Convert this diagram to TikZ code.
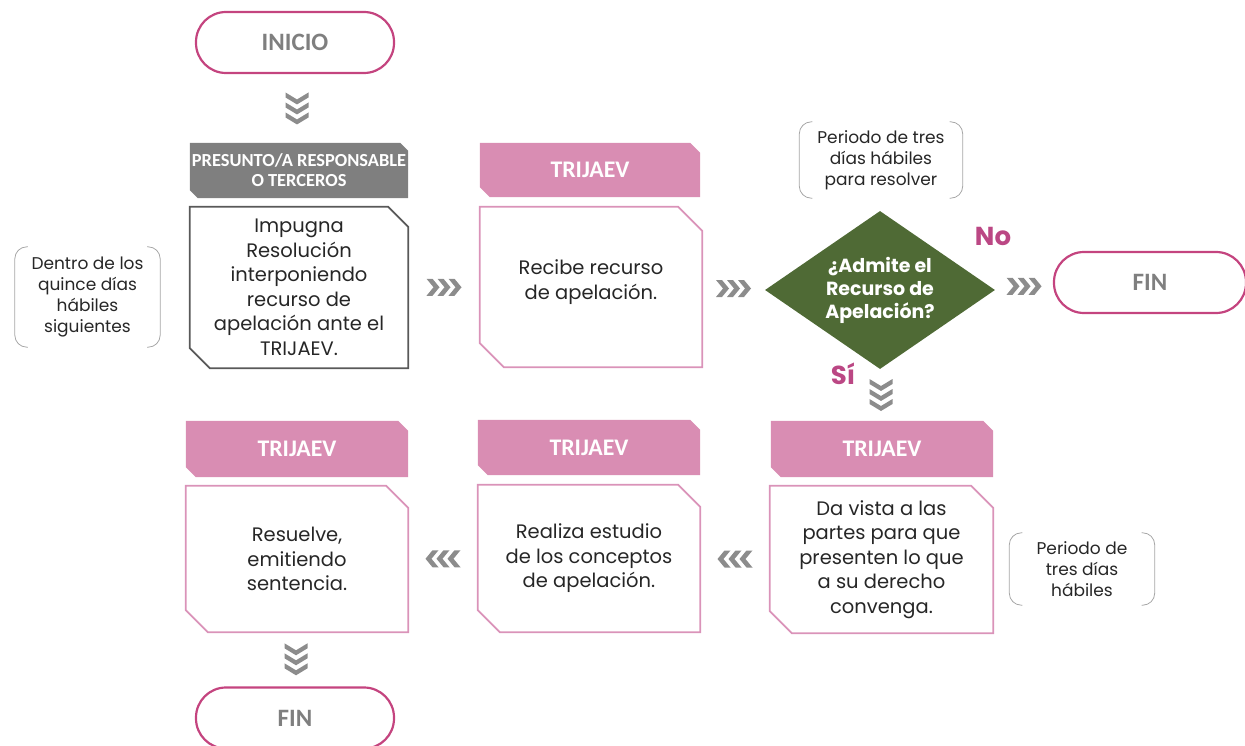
\documentclass[tikz,border=0pt]{standalone}
\usepackage{fontspec}
\setmainfont{Poppins}
\newfontfamily\carl{Carlito}
\usetikzlibrary{shapes.geometric,calc}
\pgfdeclarelayer{bg}
\pgfsetlayers{bg,main}
\definecolor{hdrpink}{HTML}{D98DB3}
\definecolor{boxpink}{HTML}{DA93B9}
\definecolor{pillpink}{HTML}{C4447F}
\definecolor{lblpink}{HTML}{BB4784}
\definecolor{decgreen}{HTML}{4F6A35}
\definecolor{hdrgray}{HTML}{7F7F7F}
\definecolor{boxgray}{HTML}{595959}
\definecolor{chevgray}{HTML}{8C8C8C}
\definecolor{txt}{HTML}{262626}
\definecolor{notegray}{HTML}{A6A6A6}
\newcommand\mychbox[3]{\path[#3] (#1.north west) -- ([xshift=-#2]#1.north east) -- ([yshift=-#2]#1.north east) -- (#1.south east) -- ([xshift=#2]#1.south west) -- ([yshift=#2]#1.south west) -- cycle;}
\newcommand\mybrk[1]{%
  \draw[notegray, line width=0.8pt, rounded corners=12pt] ([xshift=13pt]#1.north west) -- (#1.north west) -- (#1.south west) -- ([xshift=13pt]#1.south west);
  \draw[notegray, line width=0.8pt, rounded corners=12pt] ([xshift=-13pt]#1.north east) -- (#1.north east) -- (#1.south east) -- ([xshift=-13pt]#1.south east);}
\tikzset{
  pill/.style={rectangle, rounded corners=30pt, draw=pillpink, line width=2.2pt, minimum width=198pt, minimum height=61pt, font=\carl\bfseries\fontsize{25}{28}\selectfont, text=hdrgray},
  hdr/.style={rectangle, inner sep=0pt, text=white, font=\carl\bfseries\fontsize{23.8}{26}\selectfont, align=center},
  body/.style={rectangle, inner sep=0pt, text=txt, font=\fontsize{19.5}{24.5}\selectfont, align=center},
  note/.style={rectangle, inner sep=0pt, text=txt, font=\fontsize{17}{21}\selectfont, align=center},
  decision/.style={diamond, aspect=1.456, inner sep=0pt, minimum width=230pt, minimum height=158pt, fill=decgreen, text=white, font=\bfseries\fontsize{19}{23}\selectfont, align=center},
  lbl/.style={text=lblpink, font=\bfseries\fontsize{26}{28}\selectfont, inner sep=0pt},
  chevR/.pic={\foreach \i in {0,11,22} \fill[chevgray] ({\i-17.5},-8.5) -- ++(6,0) -- ++(7,8.5) -- ++(-7,8.5) -- ++(-6,0) -- ++(7,-8.5) -- cycle;},
  chevD/.pic={\foreach \i in {0,10,20} \fill[chevgray] (-11.5,{\i-16}) -- (0,{\i-9}) -- (11.5,{\i-16}) -- (11.5,{\i-11}) -- (0,{\i-4}) -- (-11.5,{\i-11}) -- cycle;}
}
\begin{document}
\begin{tikzpicture}[x=1pt,y=-1pt]
\useasboundingbox (0,0) rectangle (1245,746);
% nodes
\node[pill] (inicio) at (295,42.5) {INICIO};
\node[hdr, font=\carl\bfseries\fontsize{18.4}{20}\selectfont, minimum width=218pt, minimum height=55pt] (h1) at (299,170.5) {PRESUNTO/A RESPONSABLE\\O TERCEROS};
\node[body, minimum width=218pt, minimum height=161pt] (b1) at (299,287.5) {Impugna\\Resolución\\interponiendo\\recurso de\\apelación ante el\\TRIJAEV.};
\node[note, minimum width=145pt, minimum height=100pt] (n1) at (87.5,297) {Dentro de los\\quince días\\hábiles\\siguientes};
\node[hdr, minimum width=220pt, minimum height=54pt] (h2) at (590,170) {TRIJAEV};
\node[body, minimum width=222pt, minimum height=160pt] (b2) at (591,287) {Recibe recurso\\de apelación.\\[-10pt]~};
\node[decision] (dec) at (880,290) {¿Admite el\\Recurso de\\Apelación?};
\node[note, minimum width=163pt, minimum height=76pt] (n2) at (881,160) {Periodo de tres\\días hábiles\\para resolver};
\node[lbl] (no) at (993,236) {No};
\node[lbl] (si) at (843,374) {Sí};
\node[pill, minimum width=192pt] (fin1) at (1150,282.5) {FIN};
\node[hdr, minimum width=222pt, minimum height=56pt] (h3) at (882,449) {TRIJAEV};
\node[body, minimum width=223pt, minimum height=147pt] (b3) at (881.5,559.5) {Da vista a las\\partes para que\\presenten lo que\\a su derecho\\convenga.};
\node[note, minimum width=145pt, minimum height=72pt] (n3) at (1082,569) {Periodo de\\tres días\\hábiles};
\node[hdr, minimum width=222pt, minimum height=55pt] (h4) at (589,447.5) {TRIJAEV};
\node[body, minimum width=222pt, minimum height=147pt] (b4) at (589,558.5) {Realiza estudio\\de los conceptos\\de apelación.};
\node[hdr, minimum width=222pt, minimum height=56pt] (h5) at (297,449) {TRIJAEV};
\node[body, minimum width=222pt, minimum height=146pt] (b5) at (297,559) {Resuelve,\\emitiendo\\sentencia.};
\node[pill] (fin2) at (295,718) {FIN};
% header fills
\begin{pgfonlayer}{bg}
\mychbox{h1}{8pt}{fill=hdrgray}
\mychbox{h2}{10pt}{fill=hdrpink}
\mychbox{h3}{10pt}{fill=hdrpink}
\mychbox{h4}{10pt}{fill=hdrpink}
\mychbox{h5}{10pt}{fill=hdrpink}
\end{pgfonlayer}
% box outlines
\mychbox{b1}{20pt}{draw=boxgray, line width=1.8pt}
\mychbox{b2}{24pt}{draw=boxpink, line width=1.8pt}
\mychbox{b3}{22pt}{draw=boxpink, line width=1.8pt}
\mychbox{b4}{22pt}{draw=boxpink, line width=1.8pt}
\mychbox{b5}{22pt}{draw=boxpink, line width=1.8pt}
% notes
\mybrk{n1}
\mybrk{n2}
\mybrk{n3}
% chevron connectors
\pic at ($(inicio.south)!0.5!(h1.north)$) {chevD};
\pic at ($(b1.east)!0.5!(b2.west)$) {chevR};
\pic at ($(b2.east)!0.5!(dec.west)$) {chevR};
\pic at ($(dec.east)!0.5!(fin1.west)$) {chevR};
\pic at ($(dec.south)!0.5!(h3.north)$) {chevD};
\pic[rotate=180] at ($(b3.west)!0.5!(b4.east)$) {chevR};
\pic[rotate=180] at ($(b4.west)!0.5!(b5.east)$) {chevR};
\pic at ($(b5.south)!0.5!(fin2.north)$) {chevD};
\end{tikzpicture}
\end{document}
